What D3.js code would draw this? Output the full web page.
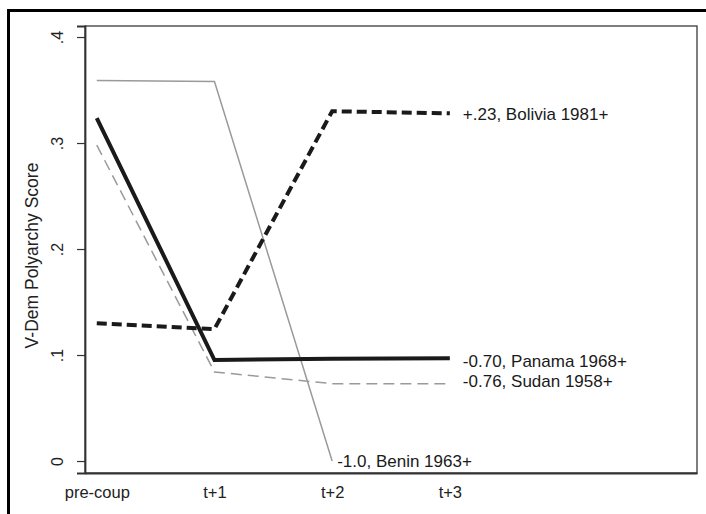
<!DOCTYPE html>
<html>
<head>
<meta charset="utf-8">
<script src="https://cdn.jsdelivr.net/npm/d3@7"></script>
<style>
  body { margin: 0; background: #fff; }
  svg { display: block; font-family: "Liberation Sans", Arial, sans-serif; }
</style>
</head>
<body>
<div id="chart"></div>
<script>
// periods on the x axis
const periods = ["pre-coup", "t+1", "t+2", "t+3"];
const yTicks = [0, 0.1, 0.2, 0.3, 0.4];
const yTickLabels = ["0", ".1", ".2", ".3", ".4"];

// V-Dem polyarchy score per case
const bolivia = [0.130, 0.1245, 0.330, 0.328];
const panama  = [0.3236, 0.0953, 0.0965, 0.097];
const sudan   = [0.298, 0.084, 0.073, 0.073];
const benin   = [0.359, 0.358, 0.0];

const caseLabels = ["+.23, Bolivia 1981+", "-0.70, Panama 1968+", "-0.76, Sudan 1958+", "-1.0, Benin 1963+"];

const width = 706, height = 514;
const plot = { left: 85, right: 697, top: 26, bottom: 473 };

const svg = d3.select("#chart")
    .append("svg")
    .attr("width", width)
    .attr("height", height);

// outer frame (only top and left edges show)
svg.append("path")
    .attr("d", `M8.5,${height} V10.5 H${width}`)
    .attr("fill", "none")
    .attr("stroke", "#000")
    .attr("stroke-width", 3);

const x = d3.scaleLinear()
    .domain([-0.1, 5.1])
    .range([plot.left, plot.right]);

const y = d3.scaleLinear()
    .domain([-0.0113, 0.4104])
    .range([plot.bottom, plot.top]);

// plot region box
svg.append("rect")
    .attr("x", plot.left)
    .attr("y", plot.top)
    .attr("width", plot.right - plot.left)
    .attr("height", plot.bottom - plot.top)
    .attr("fill", "none")
    .attr("stroke", "#3a3a3a")
    .attr("stroke-width", 1.3);

// y axis
const yAxis = svg.append("g")
    .attr("transform", `translate(${plot.left},0)`)
    .call(d3.axisLeft(y).tickValues(yTicks).tickSize(8).tickFormat((d, i) => yTickLabels[i]));

yAxis.select(".domain")
    .attr("stroke", "#333")
    .attr("stroke-width", 1.8);
yAxis.selectAll(".tick line")
    .attr("stroke", "#333")
    .attr("stroke-width", 1.2);
yAxis.selectAll(".tick text")
    .attr("x", 0)
    .attr("dy", 0)
    .attr("transform", "translate(-22,0) rotate(-90)")
    .attr("text-anchor", "middle")
    .attr("fill", "#222")
    .style("font-size", "16px");

// x axis labels (no tick marks)
const xAxis = svg.append("g")
    .attr("transform", `translate(0,${plot.bottom})`)
    .call(d3.axisBottom(x).tickValues(d3.range(periods.length)).tickSize(0).tickFormat((d, i) => periods[i]));

xAxis.select(".domain")
    .attr("stroke", "#333")
    .attr("stroke-width", 1.8);
xAxis.selectAll(".tick text")
    .attr("y", 13)
    .attr("dy", "0.71em")
    .attr("fill", "#222")
    .style("font-size", "16.5px");

// axis title
svg.append("text")
    .attr("transform", `translate(38,${(plot.top + plot.bottom) / 2 + 6}) rotate(-90)`)
    .attr("text-anchor", "middle")
    .attr("fill", "#222")
    .style("font-size", "17.5px")
    .text("V-Dem Polyarchy Score");

const line = d3.line()
    .x((d, i) => x(i))
    .y(d => y(d));

const series = [
    { data: benin,   color: "#9a9a9a", width: 1.5, dash: null },
    { data: sudan,   color: "#9a9a9a", width: 1.5, dash: "11,6" },
    { data: panama,  color: "#1a1a1a", width: 4,   dash: null },
    { data: bolivia, color: "#1a1a1a", width: 4,   dash: "10,5" },
];

series.forEach(s => {
    svg.append("path")
        .datum(s.data)
        .attr("fill", "none")
        .attr("stroke", s.color)
        .attr("stroke-width", s.width)
        .attr("stroke-dasharray", s.dash)
        .attr("d", line);
});

// case labels at the last point of each series
const labelled = [bolivia, panama, sudan, benin];
const gaps = [13, 13, 13, 5];
const shifts = [1, 3, -3, 0];

svg.selectAll("text.case")
    .data(labelled)
    .enter()
    .append("text")
    .attr("class", "case")
    .attr("x", (d, i) => x(d.length - 1) + gaps[i])
    .attr("y", (d, i) => y(d[d.length - 1]) + shifts[i])
    .attr("dy", "0.35em")
    .attr("fill", "#1a1a1a")
    .style("font-size", "17px")
    .text((d, i) => caseLabels[i]);
</script>
</body>
</html>
